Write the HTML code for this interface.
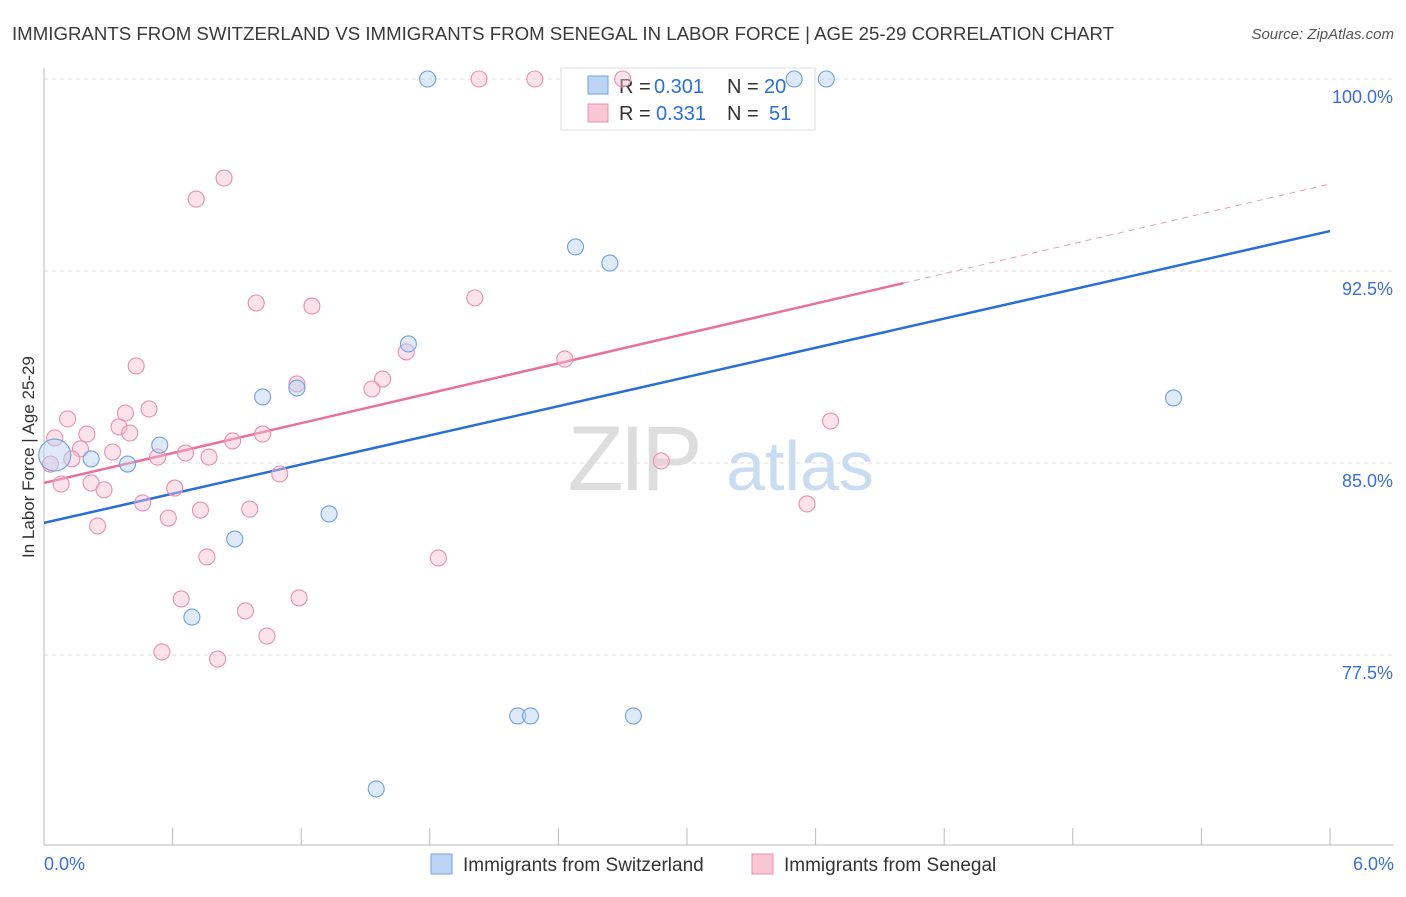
<!DOCTYPE html>
<html><head><meta charset="utf-8"><style>
body{margin:0;background:#fff;font-family:"Liberation Sans",sans-serif;}
svg text{font-family:"Liberation Sans",sans-serif;}
</style></head><body>
<svg id="chart" width="1406" height="892" xmlns="http://www.w3.org/2000/svg">
<text x="12" y="40" font-size="18.6" fill="#3a3a3a" textLength="1102" lengthAdjust="spacingAndGlyphs">IMMIGRANTS FROM SWITZERLAND VS IMMIGRANTS FROM SENEGAL IN LABOR FORCE | AGE 25-29 CORRELATION CHART</text>
<text x="1394" y="39" font-size="15" fill="#555" text-anchor="end" font-style="italic">Source: ZipAtlas.com</text>
<g>
<text x="633" y="490" font-size="92" fill="#ddd" text-anchor="middle" font-family="Liberation Serif" letter-spacing="-4">ZIP</text>
<text x="800" y="490" font-size="70" fill="#c9dcf2" text-anchor="middle">atlas</text>
</g>
<g id="grid"></g>
<g id="axes"></g>
<g>
<rect x="561" y="68" width="254" height="62" fill="#fff" stroke="#ddd"/>
<rect x="588" y="76" width="20" height="18" fill="#bcd5f5" stroke="#6fa0e0"/>
<text x="619" y="93" font-size="20" fill="#333">R =</text>
<text x="654" y="93" font-size="20" fill="#2a6fd6">0.301</text>
<text x="727" y="93" font-size="20" fill="#333">N =</text>
<text x="764" y="93" font-size="20" fill="#2a6fd6">20</text>
<rect x="588" y="104" width="20" height="18" fill="#f9c6d6" stroke="#e890b0"/>
<text x="619" y="120" font-size="20" fill="#333">R =</text>
<text x="656" y="120" font-size="20" fill="#2a6fd6">0.331</text>
<text x="727" y="120" font-size="20" fill="#333">N =</text>
<text x="769" y="120" font-size="20" fill="#2a6fd6">51</text>
</g>
<g id="lines"></g>
<g id="points"></g>
<text transform="translate(34,457) rotate(-90)" font-size="17" fill="#333" text-anchor="middle">In Labor Force | Age 25-29</text>
<g>
<rect x="431" y="854" width="21" height="20" fill="#bcd5f5" stroke="#6fa0e0"/>
<text x="463" y="871" font-size="19" fill="#333">Immigrants from Switzerland</text>
</g>
<g>
<rect x="752" y="854" width="21" height="20" fill="#f9c6d6" stroke="#e890b0"/>
<text x="784" y="871" font-size="19" fill="#333">Immigrants from Senegal</text>
</g>
</svg>
<script>
const blueX=[1.79,3.50,3.65,2.48,2.64,1.70,1.02,1.18,0.54,0.22,0.39,1.33,0.89,0.69,2.21,2.27,2.75,1.55,5.27,0.05];
const blueY=[100,100,100,93.44,92.81,89.65,87.58,87.93,85.70,85.16,84.96,83.01,82.03,78.98,75.12,75.12,75.12,72.27,87.54,85.31];
const pinkX=[2.03,2.29,2.70,0.84,0.71,0.99,1.25,2.01,1.69,2.43,1.58,1.53,1.18,0.43,0.49,0.38,0.11,0.35,0.20,0.40,0.05,0.88,1.02,0.17,0.32,0.53,0.66,0.77,0.13,0.03,0.08,0.22,0.28,0.61,1.10,0.46,0.73,0.96,0.58,0.25,0.76,1.84,2.88,3.67,3.56,0.64,1.19,0.94,1.04,0.55,0.81];
const pinkY=[100,100,100,96.13,95.31,91.25,91.13,91.45,89.34,89.06,88.28,87.89,88.09,88.79,87.11,86.95,86.72,86.41,86.13,86.17,85.98,85.86,86.13,85.55,85.43,85.23,85.39,85.23,85.16,84.96,84.18,84.22,83.95,84.02,84.57,83.44,83.16,83.20,82.85,82.54,81.33,81.29,85.08,86.64,83.40,79.69,79.73,79.22,78.24,77.62,77.34];
const yTicks=[100,92.5,85,77.5];
const yTickLabels=["100.0%","92.5%","85.0%","77.5%"];
const xTickLabels=["0.0%","6.0%"];
const blueLine=[82.66,94.06];
const pinkLine=[84.22,95.9];
const pinkSolidEnd=4.01;

const NS="http://www.w3.org/2000/svg";
const sx=v=>44+v*214.33;
const sy=v=>463-(v-85)*25.6;
function mk(tag,attrs,parent){const e=document.createElementNS(NS,tag);for(const k in attrs)e.setAttribute(k,attrs[k]);parent.appendChild(e);return e;}
const grid=document.getElementById('grid'),axes=document.getElementById('axes'),lines=document.getElementById('lines'),pts=document.getElementById('points');
yTicks.forEach((t,i)=>{
 const l=mk('line',{x1:44,x2:1394,y1:sy(t),y2:sy(t),stroke:'#ddd','stroke-dasharray':'4,4'},grid);
 
 
 const tx=mk('text',{x:1393,y:sy(t)+24,'font-size':18,fill:'#3a6fd0','text-anchor':'end'},grid);
 tx.textContent=yTickLabels[i];
 
 
});
const ya=mk('line',{x1:44,x2:44,y1:68,y2:845,stroke:'#bbb'},axes);


const xa=mk('line',{x1:44,x2:1394,y1:845,y2:845,stroke:'#bbb'},axes);


for(let i=0;i<=10;i++){
 const t=mk('line',{x1:sx(i*0.6),x2:sx(i*0.6),y1:828,y2:845,stroke:'#bbb'},axes);
 
 
}
[[0,'start',44],[6,'end',1394]].forEach((d,i)=>{
 const tx=mk('text',{x:d[2],y:870,'font-size':18,fill:'#3a6fd0','text-anchor':d[1]},axes);
 tx.textContent=xTickLabels[i];
 
 
});
function pt(x,y,fill,stroke,name,r){
 const c=mk('circle',{cx:sx(x),cy:sy(y),r:r,fill:fill,'fill-opacity':0.45,stroke:stroke,'stroke-width':1.1},pts);
 
 
}
pinkX.forEach((x,i)=>pt(x,pinkY[i],'#f7bfd2','#e890b0','senegal-point',8));
blueX.forEach((x,i)=>pt(x,blueY[i],'#b5d0f3','#6fa0e0','switzerland-point',i===blueX.length-1?16:8));
const pd=mk('line',{x1:sx(pinkSolidEnd),y1:sy(pinkLine[0]+(pinkLine[1]-pinkLine[0])*pinkSolidEnd/6),x2:sx(6),y2:sy(pinkLine[1]),stroke:'#e8a0b8','stroke-dasharray':'6,5','stroke-width':1},lines);


const ps=mk('line',{x1:sx(0),y1:sy(pinkLine[0]),x2:sx(pinkSolidEnd),y2:sy(pinkLine[0]+(pinkLine[1]-pinkLine[0])*pinkSolidEnd/6),stroke:'#e8709a','stroke-width':2.5},lines);


const bl=mk('line',{x1:sx(0),y1:sy(blueLine[0]),x2:sx(6),y2:sy(blueLine[1]),stroke:'#2a6fd6','stroke-width':2.5},lines);


</script>
</body></html>
